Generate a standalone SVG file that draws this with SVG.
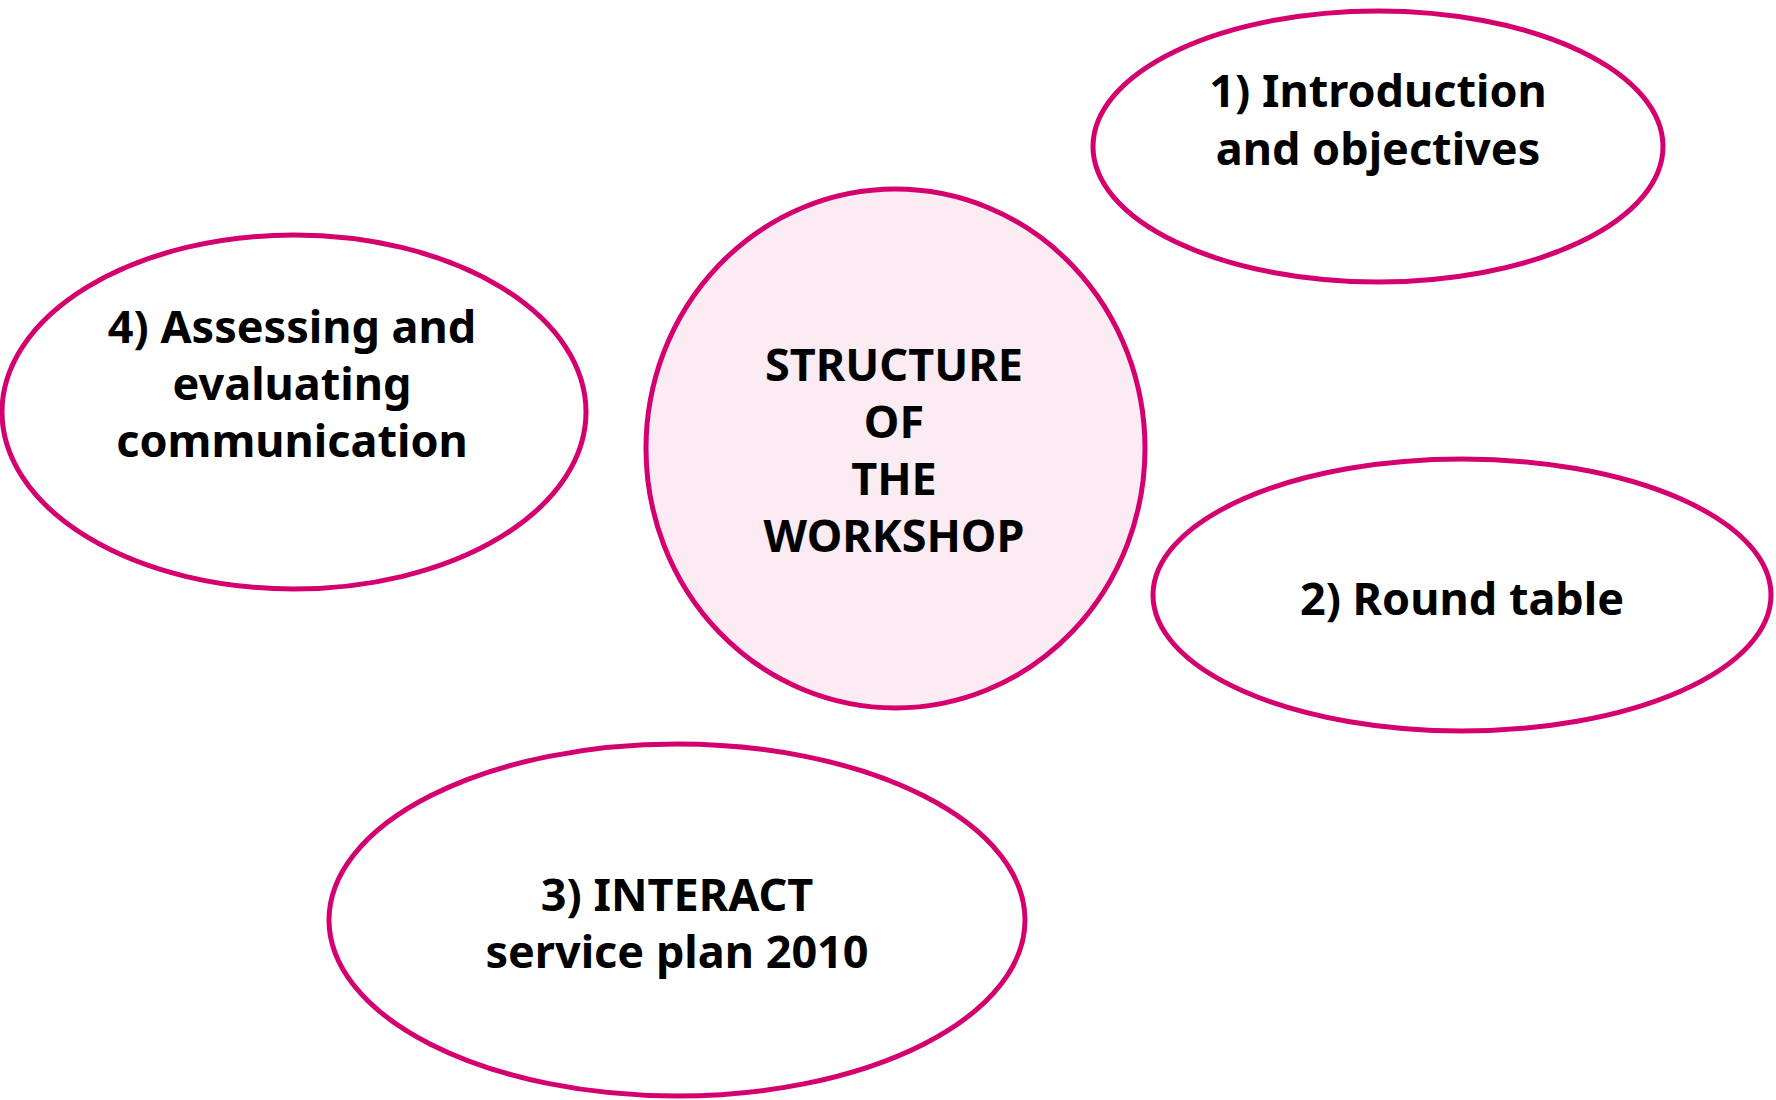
<svg xmlns="http://www.w3.org/2000/svg" width="1776" height="1100" viewBox="0 0 1776 1100">
<style>
.node{fill:#FFFFFF;stroke:#D5006F;stroke-width:5}
.hub{fill:#FBEBF3;stroke:#D5006F;stroke-width:5}
.lbl{font-family:"Noto Sans","Liberation Sans",sans-serif;font-weight:bold;font-size:45px;fill:#000000;text-anchor:middle}
</style>
<rect width="1776" height="1100" fill="#FFFFFF"/>
<g id="connectors"></g>
<g id="hub">
<ellipse class="hub" cx="895.5" cy="448.5" rx="249.5" ry="259.5"/>
<text class="lbl"><tspan x="894" y="381">STRUCTURE</tspan><tspan x="894" y="438">OF</tspan><tspan x="894" y="495">THE</tspan><tspan x="894" y="552">WORKSHOP</tspan></text>
</g>
<g id="node1">
<ellipse class="node" cx="1378" cy="146.5" rx="285" ry="135.5"/>
<text class="lbl"><tspan x="1378" y="107">1) Introduction</tspan><tspan x="1378" y="165">and objectives</tspan></text>
</g>
<g id="node2">
<ellipse class="node" cx="1462" cy="595" rx="309" ry="136"/>
<text class="lbl"><tspan x="1462" y="615">2) Round table</tspan></text>
</g>
<g id="node3">
<ellipse class="node" cx="677" cy="920" rx="348" ry="176"/>
<text class="lbl"><tspan x="677" y="911">3) INTERACT</tspan><tspan x="677" y="968">service plan 2010</tspan></text>
</g>
<g id="node4">
<ellipse class="node" cx="294" cy="412" rx="292" ry="177"/>
<text class="lbl"><tspan x="292" y="343">4) Assessing and</tspan><tspan x="292" y="400">evaluating</tspan><tspan x="292" y="457">communication</tspan></text>
</g>
</svg>
